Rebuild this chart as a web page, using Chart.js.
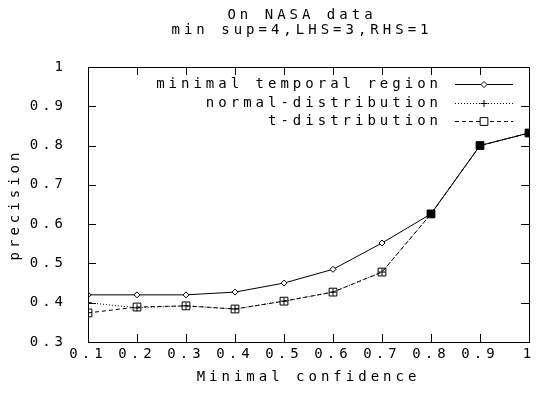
<!DOCTYPE html>
<html lang="en">
<head>
<meta charset="UTF-8">
<title>On NASA data</title>
<script src="https://cdn.jsdelivr.net/npm/chart.js"></script>
<style>
    body { margin: 0; background: #fff; }
    canvas { display: block; }
</style>
</head>
<body>
<canvas id="chart" width="542" height="396"></canvas>
<script>
// values
const confidence = [0.1, 0.2, 0.3, 0.4, 0.5, 0.6, 0.7, 0.8, 0.9, 1.0];
const minimalRegion = [0.420, 0.420, 0.420, 0.427, 0.450, 0.485, 0.552, 0.626, 0.800, 0.832];
const normalDist = [0.400, 0.387, 0.392, 0.384, 0.404, 0.427, 0.478, 0.626, 0.800, 0.832];
const tDist = [0.374, 0.389, 0.392, 0.384, 0.404, 0.427, 0.478, 0.626, 0.800, 0.832];
const seriesNames = ['minimal temporal region', 'normal-distribution', 't-distribution'];
const xTicks = [0.1, 0.2, 0.3, 0.4, 0.5, 0.6, 0.7, 0.8, 0.9, 1.0];
const xTickLabels = ['0.1', '0.2', '0.3', '0.4', '0.5', '0.6', '0.7', '0.8', '0.9', '1'];
const yTicks = [0.3, 0.4, 0.5, 0.6, 0.7, 0.8, 0.9, 1.0];
const yTickLabels = ['0.3', '0.4', '0.5', '0.6', '0.7', '0.8', '0.9', '1'];
const titleLines = ['On NASA data', 'min sup=4,LHS=3,RHS=1'];

const FONT = '"DejaVu Sans Mono", monospace';
const SPACING = '4px';

function toPoints(ys) {
    return confidence.map((x, i) => ({ x: x, y: ys[i] }));
}

function marker(ctx, style, cx, cy, r, fill) {
    ctx.beginPath();
    if (style === 'rectRot') {
        ctx.moveTo(cx - r, cy); ctx.lineTo(cx, cy - r); ctx.lineTo(cx + r, cy); ctx.lineTo(cx, cy + r); ctx.closePath();
    } else if (style === 'rect') {
        const s = r * Math.SQRT1_2;
        ctx.rect(cx - s, cy - s, 2 * s, 2 * s);
    } else {
        ctx.moveTo(cx - r, cy); ctx.lineTo(cx + r, cy); ctx.moveTo(cx, cy - r); ctx.lineTo(cx, cy + r);
    }
    if (style !== 'cross') { ctx.fillStyle = fill; ctx.fill(); }
    ctx.stroke();
}

const frame = {
    id: 'frame',
    beforeLayout(chart) { chart.ctx.letterSpacing = SPACING; },
    beforeDraw(chart) { chart.ctx.letterSpacing = SPACING; },
    afterDraw(chart) {
        const { ctx, chartArea: a, scales: { x, y } } = chart;
        ctx.save();
        ctx.strokeStyle = '#000';
        ctx.lineWidth = 1;
        ctx.setLineDash([]);
        ctx.strokeRect(Math.round(a.left) + 0.5, Math.round(a.top) + 0.5,
            Math.round(a.right - a.left), Math.round(a.bottom - a.top));
        // inward ticks on all sides
        ctx.beginPath();
        xTicks.forEach(v => {
            const px = Math.round(x.getPixelForValue(v)) + 0.5;
            ctx.moveTo(px, a.bottom); ctx.lineTo(px, a.bottom - 8);
            ctx.moveTo(px, a.top); ctx.lineTo(px, a.top + 8);
        });
        yTicks.forEach(v => {
            const py = Math.round(y.getPixelForValue(v)) + 0.5;
            ctx.moveTo(a.left, py); ctx.lineTo(a.left + 8, py);
            ctx.moveTo(a.right, py); ctx.lineTo(a.right - 8, py);
        });
        ctx.stroke();

        ctx.letterSpacing = SPACING;
        ctx.fillStyle = '#000';
        ctx.font = '14px ' + FONT;
        ctx.textAlign = 'center';
        ctx.textBaseline = 'middle';
        ctx.fillText(titleLines[0], 302, 15);
        ctx.fillText(titleLines[1], 302, 30);

        // legend inside the plot, top right
        const rows = [84, 103, 121];
        chart.data.datasets.forEach((ds, i) => {
            const yy = rows[i];
            ctx.fillStyle = '#000';
            ctx.textAlign = 'right';
            ctx.fillText(ds.label, 442, yy);
            ctx.setLineDash(ds.borderDash || []);
            ctx.beginPath();
            ctx.moveTo(455, yy + 0.5); ctx.lineTo(513, yy + 0.5);
            ctx.stroke();
            ctx.setLineDash([]);
            marker(ctx, ds.pointStyle, 484, yy + 0.5, ds.pointRadius, '#fff');
        });
        ctx.restore();
    }
};

const common = {
    borderColor: '#000',
    borderWidth: 1,
    pointBorderColor: '#000',
    pointBorderWidth: 1,
    pointBackgroundColor: '#fff',
    fill: false,
    tension: 0
};

new Chart(document.getElementById('chart'), {
    type: 'line',
    data: {
        datasets: [
            { ...common, order: 2, label: seriesNames[0], data: toPoints(minimalRegion), pointStyle: 'rectRot', pointRadius: 3 },
            { ...common, order: 1, label: seriesNames[1], data: toPoints(normalDist), pointStyle: 'cross', pointRadius: 3.5, borderDash: [1, 2] },
            {
                ...common, order: 0, label: seriesNames[2], data: toPoints(tDist), pointStyle: 'rect', pointRadius: 5.5, borderDash: [4, 3],
                // where all three series meet, the stacked markers read as a solid square
                pointBackgroundColor: c => (tDist[c.dataIndex] === minimalRegion[c.dataIndex] ? '#000' : 'rgba(0,0,0,0)')
            }
        ]
    },
    options: {
        responsive: false,
        animation: false,
        layout: { padding: { top: 67, right: 13, left: 0, bottom: 0 } },
        plugins: { legend: { display: false }, tooltip: { enabled: false }, title: { display: false } },
        scales: {
            x: {
                type: 'linear', min: 0.1, max: 1,
                afterBuildTicks: s => { s.ticks = xTicks.map(v => ({ value: v })); },
                afterFit: s => { s.height = 54; },
                grid: { display: false, drawTicks: false },
                border: { display: false },
                ticks: { color: '#000', padding: 4, autoSkip: false, maxRotation: 0, font: { family: FONT, size: 14 }, callback: (v, i) => xTickLabels[i] },
                title: { display: true, text: 'Minimal confidence', color: '#000', font: { family: FONT, size: 14 }, padding: { top: 0, bottom: 10 } }
            },
            y: {
                type: 'linear', min: 0.3, max: 1,
                afterBuildTicks: s => { s.ticks = yTicks.map(v => ({ value: v })); },
                afterFit: s => { s.width = 88; },
                grid: { display: false, drawTicks: false },
                border: { display: false },
                ticks: { color: '#000', padding: 21, font: { family: FONT, size: 14 }, callback: (v, i) => yTickLabels[i] },
                title: { display: true, text: 'precision', color: '#000', font: { family: FONT, size: 14 }, padding: { top: 7, bottom: 0 } }
            }
        }
    },
    plugins: [frame]
});
</script>
</body>
</html>
